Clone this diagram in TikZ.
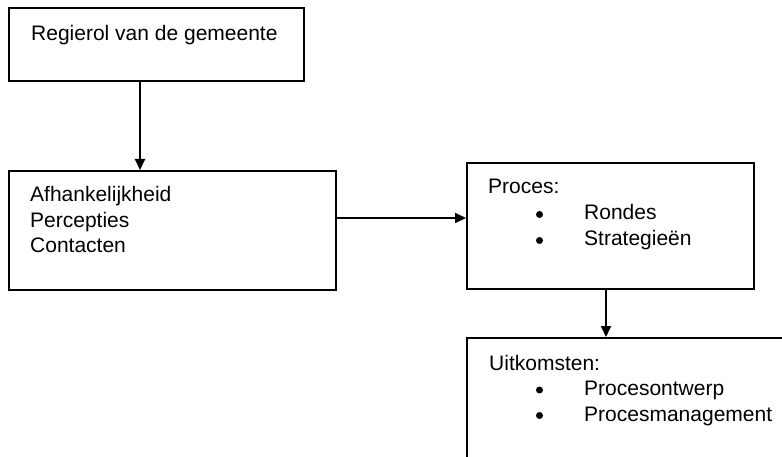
\documentclass[tikz,border=0pt]{standalone}
\usepackage{fontspec}
\setmainfont{Liberation Sans}
\usetikzlibrary{arrows.meta}

\begin{document}
\begin{tikzpicture}[
  x=1pt,
  y=-1pt,
  every node/.style={font=\fontsize{21}{25.5}\selectfont, black},
  blok/.style={draw, line width=2pt, inner sep=0pt},
  link/.style={line width=2pt, -{Triangle[length=11pt, width=10pt]}},
  lbl/.style={anchor=base west, inner sep=0pt},
  bul/.style={circle, fill, inner sep=0pt, minimum size=7}
]
  % ---- page, the last box runs off its right and bottom edge -----------
  \useasboundingbox (0,0) rectangle (782,457);
  \clip (0,0) rectangle (782,457);

  % ---- the four boxes --------------------------------------------------
  \node[blok, minimum width=295, minimum height=73]  (regie) at (156.5,44.5) {};
  \node[blok, minimum width=327, minimum height=119] (afh)   at (172.5,230.5) {};
  \node[blok, minimum width=287, minimum height=126] (proc)  at (610.5,226) {};
  \node[blok, minimum width=323, minimum height=132] (uitk)  at (628.5,404) {};

  % ---- texts -----------------------------------------------------------
  \node[lbl] (regie-t) at (31,41) {Regierol van de gemeente};
  \foreach \txt [count=\i] in {Afhankelijkheid, Percepties, Contacten}
    \node[lbl] (afh-\i) at (30,{176.5+25.5*\i}) {\txt};

  \node[lbl] (proc-t) at (488,194) {Proces:};
  \foreach \txt [count=\i] in {Rondes, Strategieën} {
    \node[bul] (proc-b\i) at (539.5,{188.5+26*\i}) {};
    \node[lbl] (proc-\i)  at (584,{194+26*\i}) {\txt};
  }

  \node[lbl] (uitk-t) at (489,370) {Uitkomsten:};
  \foreach \txt [count=\i] in {Procesontwerp, Procesmanagement} {
    \node[bul] (uitk-b\i) at (539.5,{364.5+25.5*\i}) {};
    \node[lbl] (uitk-\i)  at (584,{370+25.5*\i}) {\txt};
  }

  % ---- connectors ------------------------------------------------------
  \draw[link] ([xshift=132]regie.south west) -- ([xshift=132]afh.north west);
  \draw[link] ([yshift=12.5]afh.east) -- ([yshift=8]proc.west);
  \draw[link] ([xshift=140]proc.south west) -- ([xshift=140]uitk.north west);
\end{tikzpicture}
\end{document}
